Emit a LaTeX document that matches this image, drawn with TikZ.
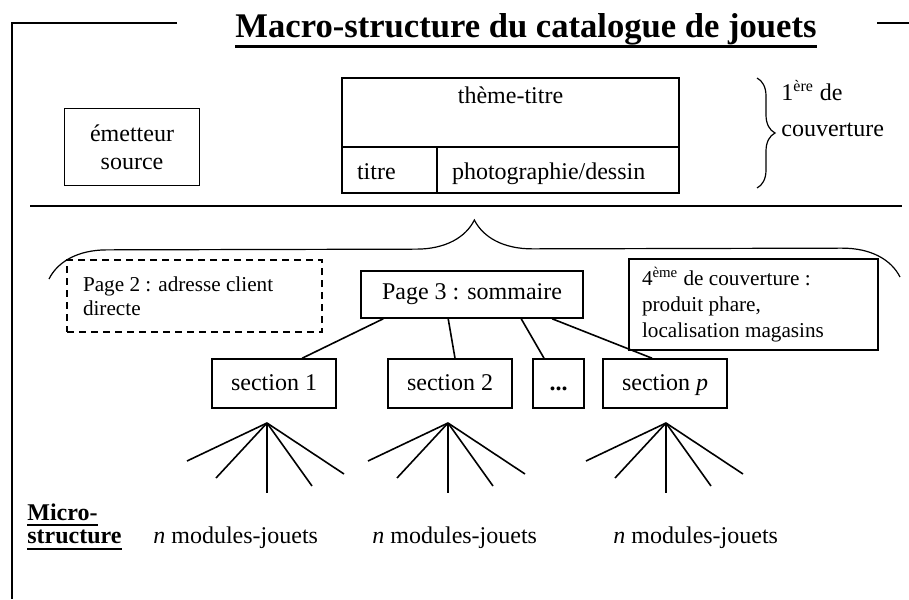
\documentclass[tikz,border=0pt]{standalone}
\usepackage{fontspec}
\setmainfont{Liberation Serif}
\usetikzlibrary{decorations.pathreplacing}
\newcommand{\souligne}[3]{\sbox0{#3}\rlap{\rule[#1]{\wd0}{#2}}\usebox0}
\tikzset{
  boite/.style={draw, line width=0.8pt, inner sep=0pt, align=center},
  rubrique/.style={boite, minimum width=62pt, minimum height=24.5pt, text height=9.5pt, text depth=2.5pt},
  case/.style={boite, align=flush left, inner xsep=7.5pt, minimum height=23pt, text height=11pt, text depth=1.5pt},
  lien/.style={line width=0.8pt},
  accolade/.style={decorate, line width=0.6pt},
  petit/.style={font=\fontsize{10.6}{13}\selectfont},
}
\begin{document}
\begin{tikzpicture}[x=0.5pt, y=-0.5pt, every node/.style={font=\fontsize{12}{14}\selectfont}]
  \useasboundingbox (0,0) rectangle (909,599);
  % cadre et titre
  \draw[lien] (177,23) -- (12,23) -- (12,599);
  \draw[lien] (877,23) -- (909,23);
  \node[inner sep=0pt, anchor=base, font=\fontsize{17.3}{20}\selectfont\bfseries] (titre) at (526,38)
    {\souligne{-5pt}{1.6pt}{Macro-structure du catalogue de jouets}};
  % 1ere de couverture
  \node[boite, minimum width=67.5pt, minimum height=38.5pt] (emetteur) at (132,147) {émetteur\\source};
  \node[boite, minimum width=168.5pt, minimum height=34.5pt] (theme) at (510.5,112.5) {};
  \node[inner sep=0pt, below=4.5pt] (themetexte) at (theme.north) {thème-titre};
  \node[case, text width=32.5pt] (titrecase) at (389.5,170) {titre};
  \node[case, text width=106pt] (photo) at (558,170) {photographie/dessin};
  \draw[accolade, decoration={brace, amplitude=9pt}] (757,78) -- (757,188);
  \node[inner sep=0pt, anchor=base west] (premiere) at (781,100) {1\textsuperscript{ère} de};
  \node[inner sep=0pt, anchor=base west] (couverture) at (781,136) {couverture};
  \draw[lien] (30,206) -- (902,206);
  % pages interieures
  \draw[accolade, decoration={brace, amplitude=29pt}] (49,279) -- (900,277);
  \node[boite, dash pattern=on 3.5pt off 2.5pt, align=flush left, text width=111.5pt, inner xsep=8pt,
    minimum height=36pt, font=\fontsize{10.6}{12}\selectfont] (pagedeux) at (194.5,296)
    {Page 2 : adresse client\\directe};
  \node[boite, minimum width=111pt, minimum height=23.5pt] (pagetrois) at (472,294.5) {Page 3 : sommaire};
  \node[boite, petit, align=flush left, text width=111.5pt, inner xsep=6.5pt, minimum height=45.5pt] (quatrieme) at (753.5,304.5)
    {4\textsuperscript{ème} de couverture :\\produit phare,\\localisation magasins};
  \node[rubrique] (sectionun) at (274,383.5) {section 1};
  \node[rubrique] (sectiondeux) at (450,383.5) {section 2};
  \node[boite, minimum width=25.5pt, minimum height=24.5pt, text height=9.5pt, text depth=2.5pt] (points) at (558.5,383.5) {\textbf{...}};
  \node[rubrique] (sectionp) at (665,383.5) {section \textit{p}};
  \draw[lien] ([xshift=11.5pt]pagetrois.south west) -- ([xshift=45.5pt]sectionun.north west);
  \draw[lien] ([xshift=44pt]pagetrois.south west) -- ([xshift=2.5pt]sectiondeux.north);
  \draw[lien] ([xshift=80.5pt]pagetrois.south west) -- ([xshift=-7.25pt]points.north);
  \draw[lien] ([xshift=96pt]pagetrois.south west) -- ([xshift=-6.5pt]sectionp.north);
  % micro-structure
  \foreach \f/\x in {un/267, deux/448, p/666}
    \coordinate (eventail\f) at (\x,423);
  \foreach \f in {un, deux, p}
    \foreach \dx/\dy in {-80/38, -51/55, 0/70, 45/63, 77/51}
      \draw[lien] (eventail\f) -- ++(\dx,\dy);
  \node[inner sep=0pt, anchor=base west, font=\fontsize{12}{14}\selectfont\bfseries] (micro) at (27,520)
    {\souligne{-3pt}{1pt}{Micro-}};
  \node[inner sep=0pt, anchor=base west, font=\fontsize{12}{14}\selectfont\bfseries] (structure) at (27,543)
    {\souligne{-3.5pt}{1pt}{structure}};
  \node[inner sep=0pt, anchor=base west] (modulesun) at (153,543) {\textit{n} modules-jouets};
  \node[inner sep=0pt, anchor=base west] (modulesdeux) at (372,543) {\textit{n} modules-jouets};
  \node[inner sep=0pt, anchor=base west] (modulesp) at (613,543) {\textit{n} modules-jouets};
\end{tikzpicture}
\end{document}
